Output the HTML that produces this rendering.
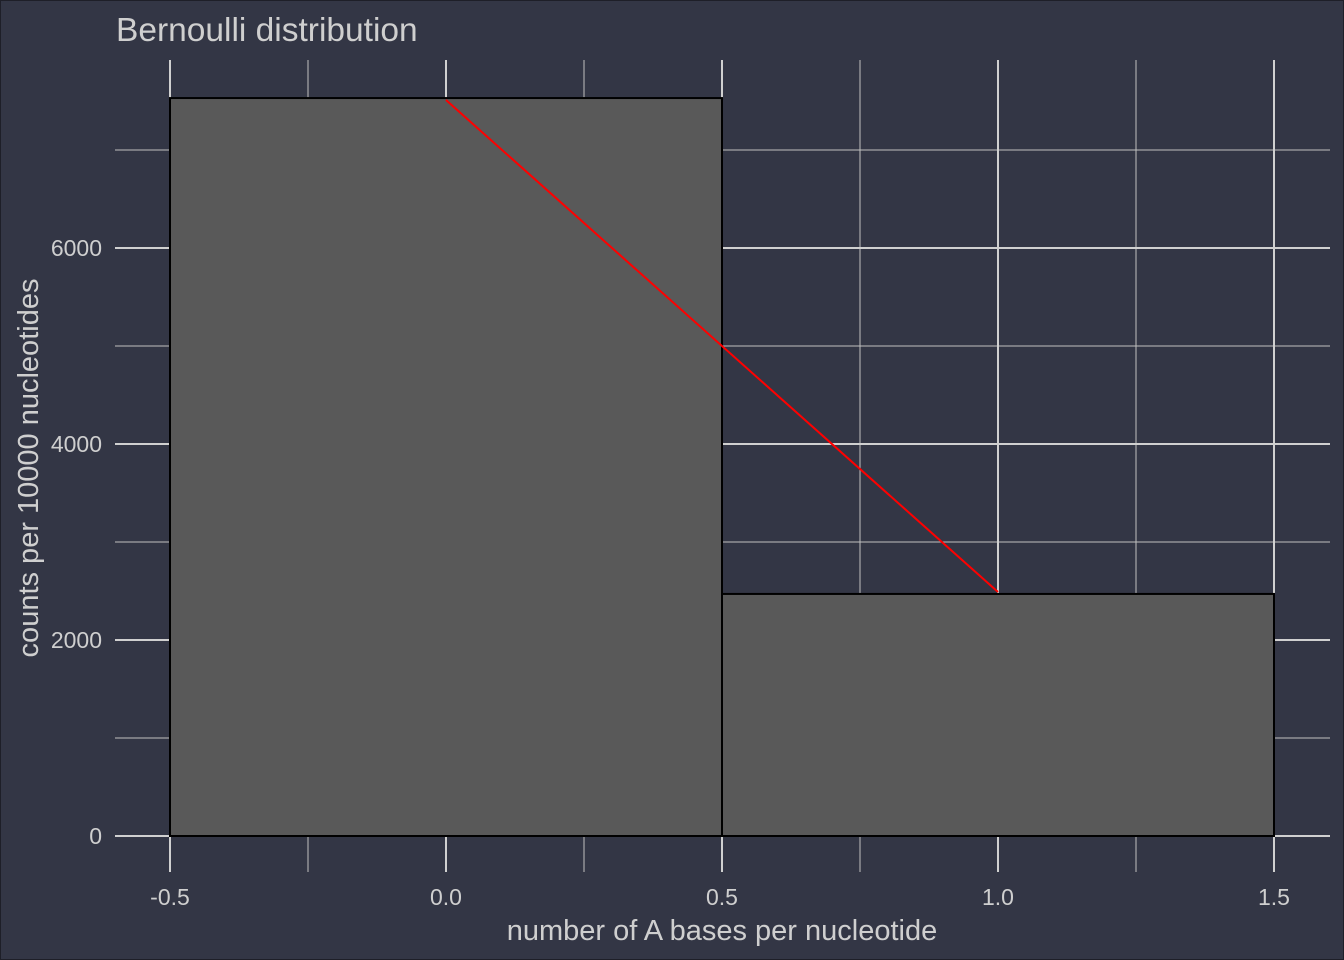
<!DOCTYPE html>
<html><head><style>
html,body{margin:0;padding:0;background:#333645;}
svg{display:block;font-family:"Liberation Sans",sans-serif;}
</style></head><body>
<svg id="c" width="1344" height="960">
<rect x="0.5" y="0.5" width="1343" height="959" fill="#333645" stroke="#1e1f28"/>
<g id="grid"></g><g id="bars"></g><g id="line"></g><g id="axes"></g>
<text x="116" y="41" font-size="33.5" fill="#cfcfcf">Bernoulli distribution</text>
<text x="722" y="940" font-size="29" fill="#cfcfcf" text-anchor="middle">number of A bases per nucleotide</text>
<text transform="translate(38,468) rotate(-90)" font-size="29" fill="#cfcfcf" text-anchor="middle">counts per 10000 nucleotides</text>
</svg>
<script>
const binCenters=[0,1];
const binCounts=[7530,2470];
const lineX=[0,1];
const lineY=[7510,2490];
const xTicks=[-0.5,0,0.5,1,1.5];
const xTickLabels=["-0.5","0.0","0.5","1.0","1.5"];
const yTicks=[0,2000,4000,6000];
const yTickLabels=["0","2000","4000","6000"];
const xMinor=[-0.25,0.25,0.75,1.25];
const yMinor=[1000,3000,5000,7000];
const NS="http://www.w3.org/2000/svg";
const X=v=>170+(v+0.5)*552;
const Y=v=>836-v*0.098;
const L=115,R=1330,T=60,B=872;
function mk(tag,attrs,parent){const e=document.createElementNS(NS,tag);for(const k in attrs)e.setAttribute(k,attrs[k]);document.getElementById(parent).appendChild(e);return e;}
xMinor.forEach(v=>{const e=mk('line',{x1:X(v),x2:X(v),y1:T,y2:B,stroke:'#c0c0c0','stroke-width':1},'grid');

});
yMinor.forEach(v=>{const e=mk('line',{x1:L,x2:R,y1:Y(v),y2:Y(v),stroke:'#c0c0c0','stroke-width':1},'grid');

});
xTicks.forEach((v,i)=>{const e=mk('line',{x1:X(v),x2:X(v),y1:T,y2:B,stroke:'#d0d0d0','stroke-width':2},'grid');


const t=mk('text',{x:X(v),y:905,'font-size':23,fill:'#cfcfcf','text-anchor':'middle'},'axes');t.textContent=xTickLabels[i];

});
yTicks.forEach((v,i)=>{const e=mk('line',{x1:L,x2:R,y1:Y(v),y2:Y(v),stroke:'#d0d0d0','stroke-width':2},'grid');


const t=mk('text',{x:102,y:Y(v)+8,'font-size':23,fill:'#cfcfcf','text-anchor':'end'},'axes');t.textContent=yTickLabels[i];

});
binCenters.forEach((c,i)=>{const e=mk('rect',{x:X(c-0.5),y:Y(binCounts[i]),width:X(c+0.5)-X(c-0.5),height:Y(0)-Y(binCounts[i]),fill:'#595959',stroke:'#000','stroke-width':2},'bars');

});
const pl=mk('polyline',{points:lineX.map((x,i)=>X(x)+','+Y(lineY[i])).join(' '),fill:'none',stroke:'#ff0000','stroke-width':2},'line');


</script>
</body></html>
